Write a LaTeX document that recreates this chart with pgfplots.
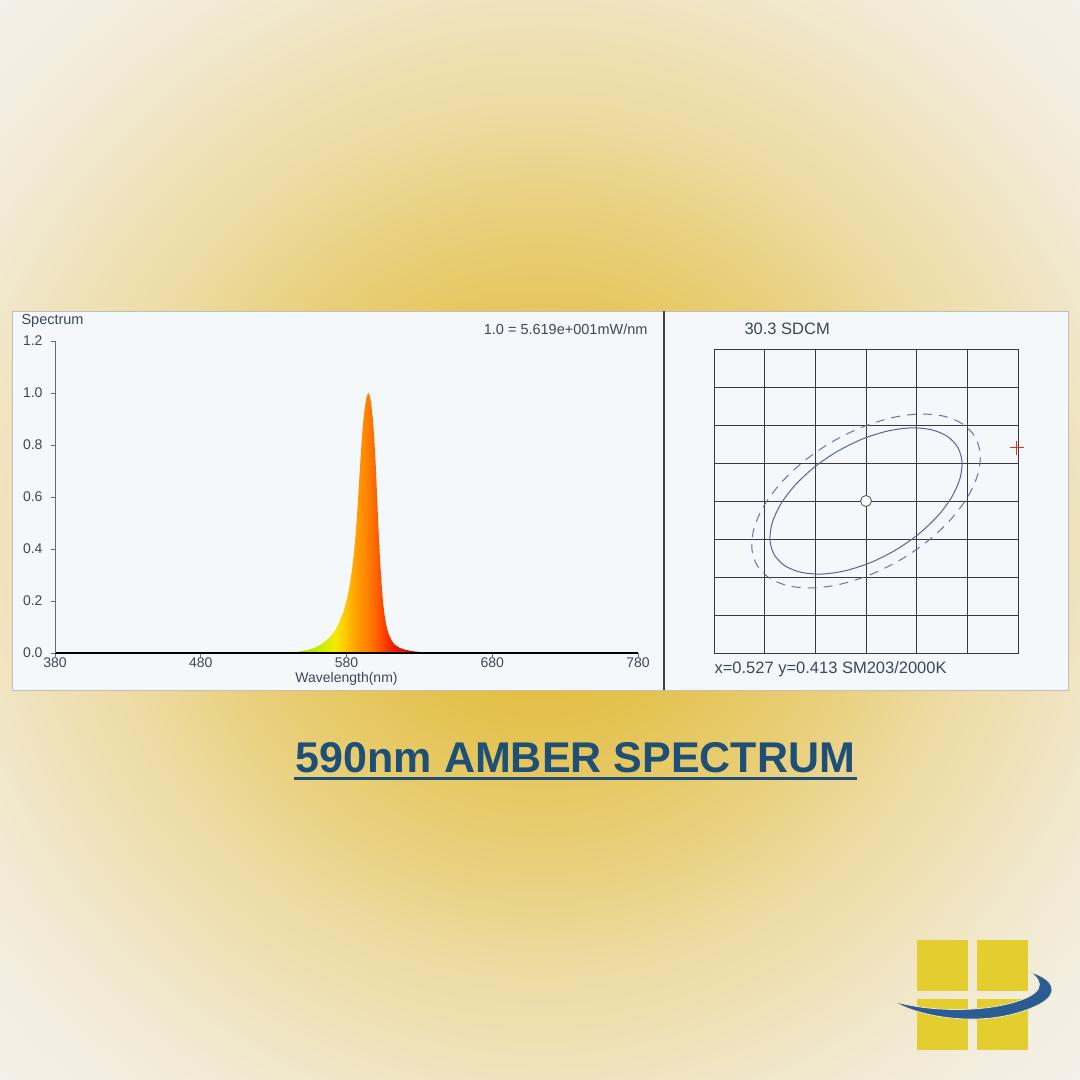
\documentclass[border=0pt]{standalone}
\usepackage{pgfplots}
\pgfplotsset{compat=1.18}
\usepackage{fontspec}
\setmainfont{Liberation Sans}

\definecolor{bgA}{HTML}{E2BA35}
\definecolor{bgB}{HTML}{E4C14C}
\definecolor{bgC}{HTML}{E8CD74}
\definecolor{bgD}{HTML}{EDDBA2}
\definecolor{bgE}{HTML}{F0E5C4}
\definecolor{bgF}{HTML}{F3EEE2}
\definecolor{bgG}{HTML}{F4F2EE}
\definecolor{panelbg}{HTML}{F4F8FA}
\definecolor{tickc}{HTML}{3C4856}
\definecolor{axc}{HTML}{6A6A6A}
\definecolor{gridc}{HTML}{3A3A3A}
\definecolor{ellc}{HTML}{5A5FA6}
\definecolor{dashc}{HTML}{6C70A8}
\definecolor{crossred}{HTML}{E03030}
\definecolor{titleblue}{HTML}{1D4F77}
\definecolor{logoyellow}{HTML}{E4CD2E}
\definecolor{logoblue}{HTML}{2B5C93}

% spectral colours, 525 nm .. 650 nm mapped onto 25bp .. 75bp
\definecolor{s1}{HTML}{9AD000}
\definecolor{s2}{HTML}{B4DE00}
\definecolor{s3}{HTML}{D2EE00}
\definecolor{s4}{HTML}{F2EC00}
\definecolor{s5}{HTML}{FFCC00}
\definecolor{s6}{HTML}{FFAC00}
\definecolor{s7}{HTML}{FF9400}
\definecolor{s8}{HTML}{FF8200}
\definecolor{s9}{HTML}{FF6A00}
\definecolor{s10}{HTML}{FF4C00}
\definecolor{s11}{HTML}{F42C00}
\definecolor{s12}{HTML}{E01808}
\definecolor{s13}{HTML}{CC0A0A}
\definecolor{s14}{HTML}{B00000}

\pgfdeclareradialshading{bgshade}{\pgfpoint{0bp}{0bp}}{%
  color(0bp)=(bgA); color(8bp)=(bgB); color(14bp)=(bgC); color(20bp)=(bgD);
  color(26bp)=(bgE); color(32bp)=(bgF); color(40bp)=(bgG); color(50bp)=(bgG)}

% 565, 572, 578, 584, 589, 594, 599, 604, 609, 616 nm ...
\pgfdeclarehorizontalshading{spec}{100bp}{%
  color(0bp)=(s1); color(25bp)=(s1); color(35bp)=(s2); color(41bp)=(s3);
  color(43.8bp)=(s4); color(46.2bp)=(s5); color(48.6bp)=(s6); color(50.6bp)=(s7);
  color(52.6bp)=(s8); color(54.6bp)=(s9); color(56.6bp)=(s10); color(58.6bp)=(s11);
  color(61.4bp)=(s12); color(65bp)=(s13); color(75bp)=(s14); color(100bp)=(s14)}

\pgfplotstableread{
lambda  rel
525 0
533 0.0005
540 0.002
547 0.005
553 0.011
558 0.020
562 0.031
566 0.047
569 0.063
572 0.085
574 0.105
576 0.13
578 0.16
580 0.20
581 0.225
582 0.255
583 0.29
584 0.33
585 0.38
586 0.44
587 0.51
588 0.60
589 0.69
590 0.78
591 0.86
592 0.92
593 0.96
594 0.99
595 1.00
596 0.99
597 0.955
598 0.905
599 0.83
600 0.73
601 0.60
602 0.47
603 0.36
604 0.27
605 0.20
606 0.15
607 0.115
608 0.09
609 0.072
611 0.048
613 0.033
616 0.021
620 0.013
625 0.007
631 0.0035
638 0.0015
645 0.0005
650 0
}\spectrum

\begin{document}
\begin{tikzpicture}
\useasboundingbox (0,0) rectangle (1080bp,1080bp);
\shade[shading=bgshade] (0,0) rectangle (1080bp,1080bp);

% panels
\fill[panelbg] (12bp,390bp) rectangle (1068bp,769bp);
\draw[black!25, line width=0.6bp] (12bp,390bp) rectangle (1068bp,769bp);
\draw[black!75, line width=1.4bp] (664bp,390bp) -- (664bp,769bp);

% spectrum
\begin{axis}[
  at={(55bp,427bp)}, anchor=south west, scale only axis,
  width=583bp, height=312bp,
  xmin=380, xmax=780, ymin=0, ymax=1.2,
  axis x line=bottom, axis y line=left, axis line style={-},
  x axis line style={black, line width=1.4bp},
  y axis line style={axc, line width=0.8bp},
  xtick={380,480,580,680,780},
  ytick={0,0.2,0.4,0.6,0.8,1.0,1.2},
  tick align=outside, major tick length=4bp,
  tick style={axc, line width=0.7bp},
  /pgf/number format/assume math mode=true,
  ticklabel style={font=\fontsize{14bp}{16bp}\selectfont, text=tickc},
  yticklabel style={xshift=-5bp, /pgf/number format/.cd, fixed, fixed zerofill, precision=1},
  xticklabel style={yshift=2.5bp, /pgf/number format/.cd, 1000 sep={}},
  xlabel={Wavelength(nm)}, ylabel={Spectrum},
  every axis x label/.style={at={(rel axis cs:0.5,0)}, anchor=center, yshift=-26bp,
    font=\fontsize{14bp}{16bp}\selectfont, text=tickc},
  every axis y label/.style={at={(rel axis cs:0,1)}, anchor=west, xshift=-37bp, yshift=20bp,
    font=\fontsize{14.5bp}{17bp}\selectfont, text=tickc},
  axis on top,
]
\addplot[draw=none, shade, shading=spec] table[x=lambda, y=rel] {\spectrum} \closedcycle;
\end{axis}

\node[anchor=east, text=tickc, font=\fontsize{14.5bp}{17bp}\selectfont] at (651bp,751bp) {1.0 = 5.619e+001mW/nm};

% chromaticity
\begin{axis}[
  at={(714bp,427bp)}, anchor=south west, scale only axis,
  width=304bp, height=304bp,
  xmin=0.524, xmax=0.530, ymin=0.409, ymax=0.417,
  xtick={0.524,0.525,0.526,0.527,0.528,0.529,0.530},
  ytick={0.409,0.410,0.411,0.412,0.413,0.414,0.415,0.416,0.417},
  xticklabels={}, yticklabels={}, scaled ticks=false,
  major tick length=0pt, grid=major,
  major grid style={gridc, line width=0.8bp},
  axis line style={gridc, line width=0.8bp},
  clip=false,
]
\addplot[dashc, line width=1bp, dash pattern=on 9bp off 7bp, smooth cycle] coordinates {
  (0.529152,0.414690) (0.528900,0.415033) (0.528521,0.415236) (0.528038,0.415288)
  (0.527484,0.415184) (0.526897,0.414930) (0.526317,0.414546) (0.525784,0.414057)
  (0.525333,0.413494) (0.524996,0.412898) (0.524796,0.412310) (0.524745,0.411768)
  (0.524848,0.411310) (0.525100,0.410967) (0.525479,0.410764) (0.525962,0.410712)
  (0.526516,0.410816) (0.527103,0.411070) (0.527683,0.411454) (0.528216,0.411943)
  (0.528667,0.412506) (0.529004,0.413102) (0.529204,0.413690) (0.529255,0.414232)};
\addplot[ellc, line width=1bp, smooth cycle] coordinates {
  (0.528808,0.414420) (0.528597,0.414708) (0.528278,0.414879) (0.527872,0.414923)
  (0.527407,0.414835) (0.526913,0.414622) (0.526426,0.414299) (0.525978,0.413888)
  (0.525599,0.413415) (0.525316,0.412915) (0.525148,0.412420) (0.525105,0.411965)
  (0.525192,0.411580) (0.525403,0.411292) (0.525722,0.411121) (0.526128,0.411077)
  (0.526593,0.411165) (0.527087,0.411378) (0.527574,0.411701) (0.528022,0.412112)
  (0.528401,0.412585) (0.528684,0.413085) (0.528852,0.413580) (0.528895,0.414035)};
\addplot[only marks, mark=*, mark size=5.5bp, mark options={fill=white, draw=black!65, line width=0.9bp}]
  coordinates {(0.527,0.413)};
\addplot[only marks, mark=+, mark size=7bp, mark options={draw=crossred, line width=1bp}]
  coordinates {(0.52998,0.41440)};
\end{axis}

\node[anchor=west, text=tickc, font=\fontsize{16.5bp}{19bp}\selectfont] at (741bp,751bp) {30.3 SDCM};
\node[anchor=west, text=tickc, font=\fontsize{16.5bp}{19bp}\selectfont] at (711bp,411bp) {x=0.527 y=0.413 SM203/2000K};

% title
\node[anchor=base, text=titleblue, font=\fontsize{43bp}{50bp}\selectfont\bfseries, inner sep=0pt] at (575.5bp,307bp) {590nm AMBER SPECTRUM};
\draw[titleblue, line width=3bp] (294bp,301bp) -- (857bp,301bp);

% logo
\fill[logoyellow] (917bp,89bp) rectangle (968bp,140bp);
\fill[logoyellow] (977bp,89bp) rectangle (1028bp,140bp);
\fill[logoyellow] (917bp,30bp) rectangle (968bp,81bp);
\fill[logoyellow] (977bp,30bp) rectangle (1028bp,81bp);
\filldraw[fill=logoblue, draw=bgE, line width=0.8bp]
  (893bp,79bp) .. controls (920bp,62bp) and (990bp,50bp) .. (1040bp,76bp)
  .. controls (1060bp,87bp) and (1054bp,101bp) .. (1030bp,108bp)
  .. controls (1046bp,97bp) and (1042bp,86bp) .. (1015bp,78bp)
  .. controls (975bp,66bp) and (920bp,70bp) .. (893bp,79bp) -- cycle;
\end{tikzpicture}
\end{document}
